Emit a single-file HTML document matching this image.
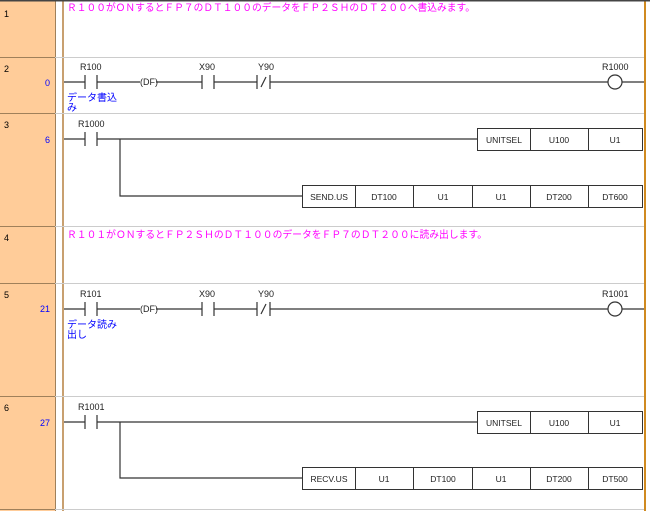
<!DOCTYPE html>
<html><head><meta charset="utf-8"><style>
body{margin:0;background:#fff;width:650px;height:511px;overflow:hidden}
svg{display:block}
text{font-family:"Liberation Sans","Noto Sans CJK JP",sans-serif}
.n{font-size:9px;fill:#000}
.s{font-size:9px;fill:#0000ff}
.l{font-size:9px;fill:#222}
.c{font-size:10px;fill:#ff00ff}
.j{font-size:10px;fill:#0000ff}
.b{font-size:8.5px;fill:#222}
</style></head><body>
<svg width="650" height="511" xmlns="http://www.w3.org/2000/svg">
<rect x="0" y="0" width="650" height="511" fill="#fff"/>
<rect x="0" y="0" width="55" height="511" fill="#ffcc99"/>
<line x1="55.5" y1="0" x2="55.5" y2="511" stroke="#a0805a"/>
<rect x="62" y="0" width="2" height="511" fill="#c8a070"/>
<rect x="644" y="0" width="2" height="511" fill="#d08a20"/>
<rect x="0" y="0" width="650" height="1.5" fill="#444"/>
<g stroke="#ccc" stroke-width="1">
<line x1="0" y1="57.5" x2="644" y2="57.5"/><line x1="0" y1="113.5" x2="644" y2="113.5"/>
<line x1="0" y1="226.5" x2="644" y2="226.5"/><line x1="0" y1="283.5" x2="644" y2="283.5"/>
<line x1="0" y1="396.5" x2="644" y2="396.5"/><line x1="0" y1="509.5" x2="644" y2="509.5"/>
</g>
<g stroke="#a0805a"><line x1="0" y1="57.5" x2="55" y2="57.5"/><line x1="0" y1="113.5" x2="55" y2="113.5"/><line x1="0" y1="226.5" x2="55" y2="226.5"/><line x1="0" y1="283.5" x2="55" y2="283.5"/><line x1="0" y1="396.5" x2="55" y2="396.5"/><line x1="0" y1="509.5" x2="55" y2="509.5"/></g>
<text class="n" x="4" y="17">1</text><text class="n" x="4" y="72">2</text><text class="n" x="4" y="128">3</text>
<text class="n" x="4" y="241">4</text><text class="n" x="4" y="298">5</text><text class="n" x="4" y="411">6</text>
<text class="s" x="45" y="86">0</text><text class="s" x="45" y="143">6</text><text class="s" x="40" y="312">21</text><text class="s" x="40" y="426">27</text>
<text class="c" x="67" y="11" textLength="408" lengthAdjust="spacingAndGlyphs">Ｒ１００がＯＮするとＦＰ７のＤＴ１００のデータをＦＰ２ＳＨのＤＴ２００へ書込みます。</text>
<text class="c" x="67" y="238" textLength="420" lengthAdjust="spacingAndGlyphs">Ｒ１０１がＯＮするとＦＰ２ＳＨのＤＴ１００のデータをＦＰ７のＤＴ２００に読み出します。</text>
<g stroke="#333" stroke-width="1.2" fill="none">
<!-- row2 -->
<path d="M64 82H85M97 82H140M156 82H202M214 82H257M270 82H608M622 82H644"/>
<path d="M85 75V89M97 75V89M202 75V89M214 75V89M257 75V89M270 75V89M261 87L266 77"/>
<circle cx="615" cy="82" r="7"/>
<!-- row5 -->
<path d="M64 309H85M97 309H140M156 309H202M214 309H257M270 309H608M622 309H644"/>
<path d="M85 302V316M97 302V316M202 302V316M214 302V316M257 302V316M270 302V316M261 314L266 304"/>
<circle cx="615" cy="309" r="7"/>
<!-- row3 -->
<path d="M64 139H85M97 139H477M85 132V146M97 132V146M120 139V196H302"/>
<!-- row6 -->
<path d="M64 422H85M97 422H477M85 415V429M97 415V429M120 422V478H302"/>
</g>
<text class="l" x="80" y="70">R100</text><text class="l" x="199" y="70">X90</text><text class="l" x="258" y="70">Y90</text><text class="l" x="602" y="70">R1000</text>
<text class="l" x="140" y="85">(DF)</text>
<text class="j" x="67" y="101">データ書込</text><text class="j" x="67" y="111">み</text>
<text class="l" x="78" y="127">R1000</text>
<text class="l" x="80" y="297">R101</text><text class="l" x="199" y="297">X90</text><text class="l" x="258" y="297">Y90</text><text class="l" x="602" y="297">R1001</text>
<text class="l" x="140" y="312">(DF)</text>
<text class="j" x="67" y="328">データ読み</text><text class="j" x="67" y="338">出し</text>
<text class="l" x="78" y="410">R1001</text>
<g stroke="#333" stroke-width="1" fill="#fff">
<rect x="477.5" y="128.5" width="165" height="22"/><path d="M530.5 128.5V150.5M588.5 128.5V150.5"/>
<rect x="302.5" y="185.5" width="340" height="22"/><path d="M355.5 185.5V207.5M413.5 185.5V207.5M472.5 185.5V207.5M530.5 185.5V207.5M588.5 185.5V207.5"/>
<rect x="477.5" y="411.5" width="165" height="22"/><path d="M530.5 411.5V433.5M588.5 411.5V433.5"/>
<rect x="302.5" y="467.5" width="340" height="22"/><path d="M355.5 467.5V489.5M413.5 467.5V489.5M472.5 467.5V489.5M530.5 467.5V489.5M588.5 467.5V489.5"/>
</g>
<g class="b" text-anchor="middle">
<text x="504" y="143">UNITSEL</text><text x="559" y="143">U100</text><text x="615" y="143">U1</text>
<text x="329" y="200">SEND.US</text><text x="384" y="200">DT100</text><text x="443" y="200">U1</text><text x="501" y="200">U1</text><text x="559" y="200">DT200</text><text x="615" y="200">DT600</text>
<text x="504" y="426">UNITSEL</text><text x="559" y="426">U100</text><text x="615" y="426">U1</text>
<text x="329" y="482">RECV.US</text><text x="384" y="482">U1</text><text x="443" y="482">DT100</text><text x="501" y="482">U1</text><text x="559" y="482">DT200</text><text x="615" y="482">DT500</text>
</g>
</svg>
</body></html>
